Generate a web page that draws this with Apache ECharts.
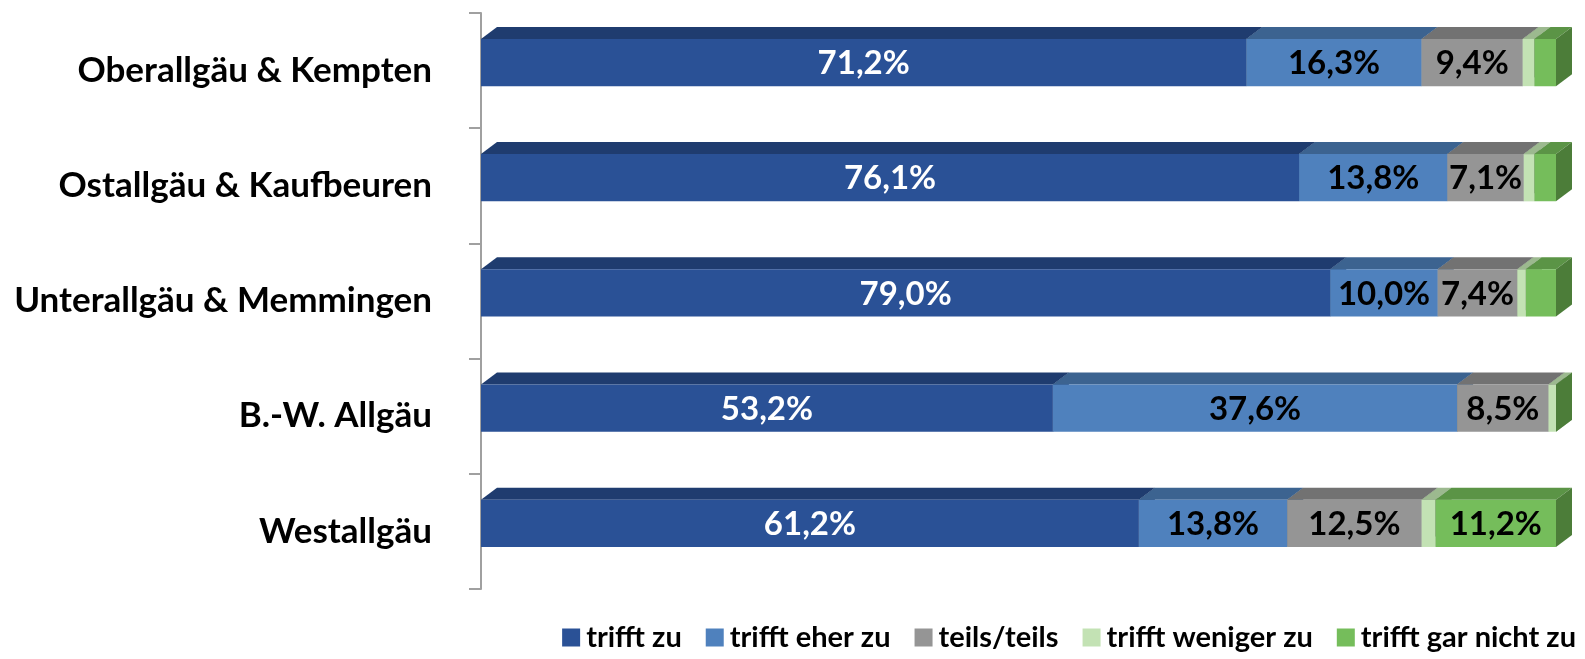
<!DOCTYPE html>
<html>
<head>
<meta charset="utf-8">
<script src="https://cdn.jsdelivr.net/npm/echarts@6/dist/echarts.min.js"></script>
<style>
  html, body { margin: 0; padding: 0; background: #fff; }
  #chart { width: 1585px; height: 659px; }
</style>
</head>
<body>
<div id="chart"></div>
<script>
// categories top to bottom
let regions = ['Oberallgäu & Kempten', 'Ostallgäu & Kaufbeuren', 'Unterallgäu & Memmingen', 'B.-W. Allgäu', 'Westallgäu'];

// answer shares in percent, one array per answer
let triffZu = [71.2, 76.1, 79.0, 53.2, 61.2];
let triffEherZu = [16.3, 13.8, 10.0, 37.6, 13.8];
let teilsTeils = [9.4, 7.1, 7.4, 8.5, 12.5];
let triffWenigerZu = [1.1, 1.0, 0.8, 0.7, 1.3];
let triffGarNichtZu = [2.0, 2.0, 2.8, 0.0, 11.2];

let answers = ['trifft zu', 'trifft eher zu', 'teils/teils', 'trifft weniger zu', 'trifft gar nicht zu'];
let values = [triffZu, triffEherZu, teilsTeils, triffWenigerZu, triffGarNichtZu];

// front / top / side colours for the 3d look
let faces = [
    { front: '#2a5196', top: '#1f3c6f', side: '#1d3866', text: '#ffffff' },
    { front: '#4f81bd', top: '#3c6390', side: '#365a85', text: '#000000' },
    { front: '#959595', top: '#727272', side: '#686868', text: '#000000' },
    { front: '#c3e2b4', top: '#9cb98f', side: '#8fab83', text: '#000000' },
    { front: '#75bd5b', top: '#5b9446', side: '#4c7d39', text: '#000000' }
];

let fontFamily = 'Lato, "Open Sans", sans-serif';
let depthX = 16, depthY = 12;

function fmt(v) {
    return v.toFixed(1).replace('.', ',') + '%';
}

let offsets = regions.map(function () { return 0; });

let series = answers.map(function (name, k) {
    let data = regions.map(function (r, i) {
        let start = offsets[i];
        let end = start + values[k][i];
        offsets[i] = end;
        return [i, start, end, values[k][i]];
    });
    let face = faces[k];
    return {
        name: name,
        type: 'custom',
        itemStyle: { color: face.front },
        encode: { y: 0, x: [1, 2] },
        data: data,
        renderItem: function (params, api) {
            let cat = api.value(0);
            let p0 = api.coord([api.value(1), cat]);
            let p1 = api.coord([api.value(2), cat]);
            let band = api.size([0, 1])[1];
            let h = band * 0.41;
            let cy = p0[1] - band * 0.07;
            let x0 = p0[0], x1 = p1[0];
            let y0 = cy - h / 2, y1 = cy + h / 2;
            let children = [
                {
                    type: 'polygon',
                    shape: { points: [[x0, y0], [x1, y0], [x1 + depthX, y0 - depthY], [x0 + depthX, y0 - depthY]] },
                    style: { fill: face.top }
                },
                {
                    type: 'rect',
                    shape: { x: x0, y: y0, width: x1 - x0, height: h },
                    style: { fill: face.front }
                },
                {
                    type: 'polygon',
                    shape: { points: [[x1, y0], [x1 + depthX, y0 - depthY], [x1 + depthX, y1 - depthY], [x1, y1]] },
                    style: { fill: face.side }
                }
            ];
            let v = api.value(3);
            if (v >= 5) {
                children.push({
                    type: 'text',
                    x: (x0 + x1) / 2,
                    y: cy + 1,
                    style: {
                        text: fmt(v),
                        fill: face.text,
                        font: 'bold 33px ' + fontFamily,
                        align: 'center',
                        verticalAlign: 'middle'
                    }
                });
            }
            return { type: 'group', children: children };
        }
    };
});

let option = {
    animation: false,
    grid: { left: 481, right: 29, top: 13, bottom: 70 },
    xAxis: {
        type: 'value',
        min: 0,
        max: 100,
        show: false
    },
    yAxis: {
        type: 'category',
        data: regions,
        inverse: true,
        offset: 12,
        axisLine: { show: true, lineStyle: { color: '#a0a0a0', width: 2 } },
        axisTick: { show: true, length: 12, lineStyle: { color: '#a0a0a0', width: 2 } },
        axisLabel: {
            margin: 37,
            color: '#000',
            fontFamily: fontFamily,
            fontWeight: 'bold',
            fontSize: 35
        },
        splitLine: { show: false }
    },
    legend: {
        data: answers,
        icon: 'rect',
        right: 4,
        bottom: 2,
        itemWidth: 18,
        itemHeight: 18,
        itemGap: 24,
        textStyle: {
            color: '#000',
            fontFamily: fontFamily,
            fontWeight: 'bold',
            fontSize: 29,
            padding: [0, 0, 0, 1]
        }
    },
    series: series
};

let chart = echarts.init(document.getElementById('chart'));
chart.setOption(option);
</script>
</body>
</html>
